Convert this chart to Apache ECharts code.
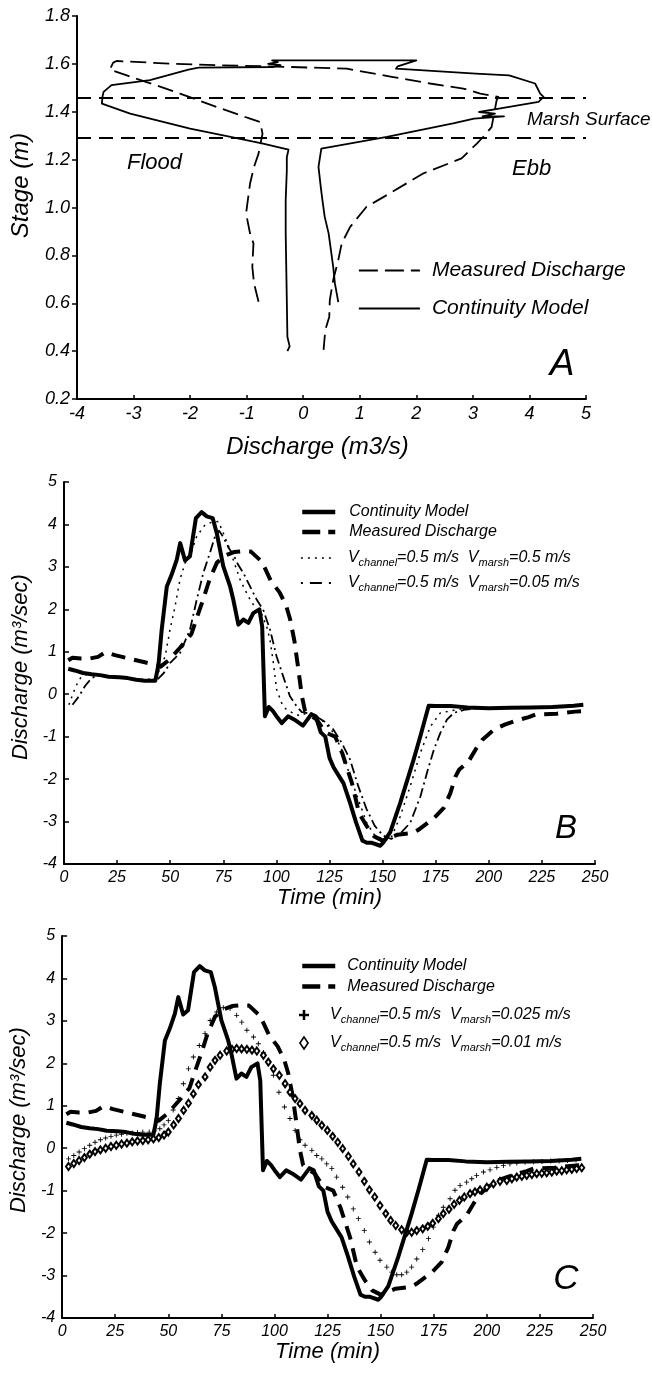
<!DOCTYPE html>
<html>
<head>
<meta charset="utf-8">
<script src="https://cdn.jsdelivr.net/npm/echarts@6/dist/echarts.min.js"></script>
<style>html,body{margin:0;padding:0;background:#fff}#c{width:652px;height:1374px}</style>
</head>
<body>
<div id="c"></div>
<script>
// ---------- Panel A : stage vs discharge ----------
const marshSurfaceStages = [1.462, 1.292];
const continuityA = [[-0.28,0.40],[-0.24,0.42],[-0.28,0.46],[-0.29,0.61],[-0.30,0.75],[-0.31,0.89],[-0.31,1.03],[-0.29,1.155],[-0.29,1.21],[-0.26,1.242],[-0.71,1.267],[-1.35,1.298],[-2.0,1.33],[-3.06,1.392],[-3.56,1.434],[-3.58,1.441],[-3.55,1.462],[-3.53,1.483],[-3.39,1.511],[-2.71,1.532],[-2.03,1.576],[-1.85,1.584],[-0.53,1.587],[-0.40,1.595],[-0.62,1.600],[-0.45,1.607],[-0.55,1.615],[2.0,1.615],[1.67,1.59],[1.64,1.58],[3.05,1.559],[3.64,1.552],[4.10,1.518],[4.19,1.476],[4.25,1.462],[4.16,1.441],[3.46,1.413],[3.11,1.399],[3.39,1.392],[3.17,1.381],[3.55,1.381],[3.02,1.371],[2.65,1.351],[1.48,1.295],[0.32,1.246],[0.31,1.239],[0.27,1.17],[0.31,1.086],[0.34,1.03],[0.38,0.961],[0.45,0.891],[0.49,0.822],[0.53,0.752],[0.56,0.683],[0.62,0.605]];
const measuredA = [[-0.79,0.606],[-0.87,0.683],[-0.90,0.752],[-0.88,0.85],[-0.94,0.891],[-1.01,0.975],[-0.98,1.03],[-0.94,1.10],[-0.87,1.17],[-0.79,1.225],[-0.72,1.308],[-0.76,1.357],[-0.94,1.371],[-1.53,1.42],[-2.18,1.476],[-2.77,1.524],[-3.12,1.552],[-3.42,1.576],[-3.36,1.605],[-3.30,1.612],[-2.36,1.601],[-1.47,1.594],[-0.65,1.59],[0.77,1.58],[1.59,1.545],[2.24,1.518],[2.83,1.497],[3.13,1.476],[3.45,1.462],[3.42,1.448],[3.33,1.336],[3.21,1.302],[3.07,1.267],[2.8,1.205],[2.12,1.142],[1.53,1.059],[1.12,1.003],[0.83,0.919],[0.68,0.85],[0.62,0.78],[0.53,0.697],[0.47,0.613],[0.46,0.543],[0.39,0.488],[0.36,0.405]];

// ---------- Panels B & C : discharge vs time ----------
const continuityModel = [[2,0.6],[5,0.56],[9,0.5],[13,0.47],[17,0.45],[21,0.41],[26,0.4],[30,0.38],[34,0.34],[38,0.32],[43,0.32],[44.5,0.7],[46,1.52],[48.4,2.54],[50.7,2.82],[53.1,3.17],[54.7,3.56],[57,3.15],[59.3,3.25],[62.1,4.15],[64.8,4.29],[67.2,4.19],[70,4.15],[71.9,3.8],[75,3.01],[78.2,2.54],[79.7,2.23],[82.1,1.64],[84.4,1.76],[86.8,1.68],[89.1,1.91],[92,2.0],[93.3,1.6],[94.6,-0.52],[96.4,-0.3],[98.4,-0.4],[100.5,-0.55],[102.5,-0.68],[105.5,-0.52],[108.5,-0.6],[112.5,-0.74],[116.5,-0.47],[118.5,-0.52],[120.9,-0.9],[123,-1.0],[125,-1.5],[126.9,-1.72],[131.6,-2.1],[134.6,-2.55],[137.5,-3.02],[140.5,-3.45],[142.6,-3.5],[145,-3.5],[148.9,-3.57],[150.2,-3.5],[153.6,-3.25],[158.3,-2.56],[164.6,-1.54],[168,-0.95],[171.7,-0.27],[175,-0.28],[181.9,-0.28],[190,-0.31],[200,-0.33],[210,-0.32],[220,-0.31],[230,-0.3],[240,-0.27],[244.5,-0.25]];
const measuredDischarge = [[2,0.8],[4,0.86],[8,0.84],[12,0.84],[16,0.88],[19.5,0.99],[24,0.92],[29,0.86],[34,0.8],[39,0.74],[43.8,0.69],[45.5,0.65],[49.5,0.81],[54.7,1.1],[60,1.42],[62.5,1.8],[65.3,2.2],[68.5,2.7],[72,3.1],[76,3.27],[80,3.35],[84,3.37],[88,3.36],[93.2,3.12],[97.5,2.66],[101.5,2.4],[104.5,2.1],[106.5,1.76],[108.5,1.25],[110.3,0.6],[112,-0.05],[113.5,-0.4],[116,-0.5],[119,-0.6],[123,-0.9],[127.7,-1.0],[131,-1.39],[135.6,-2.1],[138.9,-2.8],[142.7,-3.12],[146,-3.35],[150,-3.45],[153,-3.39],[157,-3.31],[164,-3.27],[167,-3.19],[174.2,-2.92],[178.8,-2.68],[181.9,-2.33],[184.3,-1.94],[186,-1.78],[190.5,-1.58],[193.8,-1.3],[197,-1.07],[202.5,-0.83],[207.8,-0.71],[213,-0.62],[218.8,-0.54],[222,-0.48],[232,-0.46],[240.8,-0.41],[244.5,-0.4]];
const marsh05 = [[2.3,-0.25],[4.5,0.05],[6.3,0.26],[8,0.4],[10,0.46],[15,0.45],[20,0.42],[25,0.4],[30,0.37],[35,0.35],[40,0.35],[43.6,0.42],[47.6,0.89],[49.9,1.52],[52.3,2.07],[54.6,2.7],[57,3.09],[59.3,3.25],[62.5,3.72],[66.4,3.99],[69.5,4.05],[72.7,4.07],[75,3.8],[78.2,3.4],[79.7,3.17],[82.9,2.7],[85.2,2.46],[87.6,2.23],[90.7,1.99],[93,1.9],[95.4,1.6],[97,1.28],[98.6,0.73],[100.1,0.11],[102.5,-0.21],[104.5,-0.35],[107.2,-0.43],[111.1,-0.51],[115,-0.43],[118.9,-0.51],[122.8,-0.67],[126.8,-0.9],[130.7,-1.3],[134.6,-1.92],[138.5,-2.47],[142.4,-3.02],[146.3,-3.33],[150.2,-3.41],[153.6,-3.43],[158.3,-2.88],[163,-2.17],[167.8,-1.38],[172.5,-0.76],[177.2,-0.44],[183.5,-0.38],[190,-0.32],[200,-0.32],[210,-0.31],[220,-0.3],[230,-0.29],[240,-0.27],[244,-0.26]];
const marsh005 = [[4,-0.25],[7,-0.05],[10,0.2],[13,0.38],[16,0.44],[20,0.42],[25,0.4],[30,0.37],[35,0.34],[40,0.33],[44,0.35],[47,0.5],[49.9,0.73],[54.6,0.97],[59.3,1.52],[62.5,2.23],[65.6,2.86],[68.7,3.33],[71.1,3.72],[73,3.85],[75,3.7],[77.5,3.45],[79.7,3.29],[82,3.05],[84.4,2.86],[87.6,2.54],[90.7,2.23],[93.8,1.99],[97,1.52],[100.1,0.89],[103.2,0.42],[106.4,-0.05],[109.6,-0.29],[112,-0.42],[115,-0.45],[118,-0.5],[122.8,-0.65],[126.8,-0.83],[130.7,-1.14],[134.6,-1.53],[138.5,-2.16],[142.4,-2.7],[146.3,-3.1],[150.2,-3.33],[154.1,-3.41],[158,-3.3],[163,-3.03],[167.8,-2.41],[170.9,-1.85],[174.1,-1.31],[177.2,-0.91],[180.3,-0.6],[183.5,-0.44],[188.2,-0.37],[195,-0.33],[205,-0.32],[215,-0.31],[225,-0.3],[235,-0.28],[244,-0.26]];
const marsh0025 = [[3,-0.25],[5.5,-0.17],[8,-0.09],[10.5,-0.01],[13,0.07],[15.5,0.14],[18,0.2],[20.5,0.24],[23,0.28],[25.5,0.31],[28,0.33],[30.5,0.35],[33,0.36],[35.5,0.37],[38,0.38],[41,0.38],[43.5,0.41],[46,0.46],[48,0.55],[50,0.65],[52.3,0.9],[54.7,1.17],[57.1,1.52],[59.5,1.87],[61.8,2.15],[64.6,2.42],[67.3,2.7],[69.7,3.01],[72.8,3.21],[75.9,3.31],[79.1,3.29],[82.2,3.13],[84.6,2.97],[87,2.78],[90.1,2.62],[92.4,2.46],[94.8,2.25],[97.1,2.03],[99.5,1.72],[102.1,1.32],[104.7,0.97],[107.3,0.7],[109.7,0.42],[112,0.2],[114.4,0.07],[117.6,-0.05],[119.9,-0.17],[122.3,-0.25],[124.6,-0.37],[127,-0.48],[129.3,-0.68],[132.1,-0.92],[134.5,-1.15],[137.1,-1.43],[139.5,-1.66],[142.3,-1.94],[144.7,-2.21],[147.4,-2.45],[149.7,-2.64],[152.9,-2.8],[155.2,-2.92],[157.6,-2.98],[159.9,-2.98],[162.3,-2.92],[164.6,-2.8],[167,-2.61],[169.8,-2.39],[172.5,-2.13],[174.8,-1.86],[177.2,-1.58],[179.5,-1.39],[182.7,-1.19],[185,-0.99],[187.4,-0.88],[190.5,-0.8],[192.9,-0.72],[195.2,-0.64],[198.4,-0.56],[201.5,-0.51],[204.7,-0.45],[207.8,-0.41],[210.9,-0.37],[214.1,-0.35],[218,-0.33],[222,-0.32],[226,-0.31],[230,-0.3],[234,-0.3],[238,-0.29],[242,-0.28]];
const marsh001 = [[3,-0.43],[5.5,-0.36],[8,-0.29],[10.5,-0.22],[13,-0.14],[15.5,-0.08],[18,-0.04],[20.5,0],[23,0.04],[25.5,0.07],[28,0.1],[30.5,0.12],[33,0.15],[35.5,0.17],[38,0.18],[40.5,0.2],[43,0.22],[45.5,0.25],[48,0.31],[50,0.38],[52.5,0.55],[54.8,0.7],[57.2,0.89],[59.5,1.06],[61.8,1.28],[64.2,1.5],[67.3,1.68],[69.7,1.91],[72,2.07],[74.4,2.19],[77.5,2.29],[80,2.33],[82.2,2.35],[84.5,2.34],[87,2.33],[89.4,2.31],[91.7,2.29],[94.8,2.19],[97.1,2.03],[99.5,1.87],[102.3,1.72],[105,1.52],[107.3,1.32],[109.7,1.17],[112,1.05],[114.4,0.89],[117.6,0.77],[119.9,0.66],[122.3,0.54],[124.9,0.42],[127.4,0.28],[129.8,0.14],[132.1,-0.01],[134.8,-0.19],[137.1,-0.37],[139.8,-0.56],[142.3,-0.78],[144.7,-0.98],[147.2,-1.15],[149.7,-1.35],[152.4,-1.54],[154.7,-1.7],[157.1,-1.82],[159.9,-1.92],[162.3,-1.98],[164.6,-1.98],[167,-1.94],[169.8,-1.9],[172.2,-1.84],[174.5,-1.77],[177.2,-1.66],[179.5,-1.54],[182.2,-1.44],[184.6,-1.32],[187.1,-1.23],[189.4,-1.15],[192.1,-1.07],[194.4,-1.03],[196.8,-0.98],[200,-0.92],[203.1,-0.84],[206.2,-0.78],[209.4,-0.76],[211.8,-0.72],[214.1,-0.68],[216.5,-0.66],[218.8,-0.64],[221.2,-0.62],[223.5,-0.6],[225.9,-0.59],[228.2,-0.58],[230.6,-0.56],[232.9,-0.54],[235.3,-0.53],[237.6,-0.51],[240,-0.5],[242.3,-0.48],[244.7,-0.46]];

const legendLabels = {
  'A-meas': '{v|Measured Discharge}',
  'A-cont': '{v|Continuity Model}',
  'B-cont': '{v|Continuity Model}',
  'B-meas': '{v|Measured Discharge}',
  'B-v05': '{v|V}{s|channel}{v|=0.5 m/s  V}{s|marsh}{v|=0.5 m/s}',
  'B-v005': '{v|V}{s|channel}{v|=0.5 m/s  V}{s|marsh}{v|=0.05 m/s}',
  'C-cont': '{v|Continuity Model}',
  'C-meas': '{v|Measured Discharge}',
  'C-v0025': '{v|V}{s|channel}{v|=0.5 m/s  V}{s|marsh}{v|=0.025 m/s}',
  'C-v001': '{v|V}{s|channel}{v|=0.5 m/s  V}{s|marsh}{v|=0.01 m/s}'
};

const FONT = '"Liberation Sans", Arial, sans-serif';
const PLUS = 'path://M-1,-4L1,-4L1,-1L4,-1L4,1L1,1L1,4L-1,4L-1,1L-4,1L-4,-1L-1,-1Z';
const SMALLPLUS = 'path://M-0.7,-4L0.7,-4L0.7,-0.7L4,-0.7L4,0.7L0.7,0.7L0.7,4L-0.7,4L-0.7,0.7L-4,0.7L-4,-0.7L-0.7,-0.7Z';
const DIAM = 'path://M0,-5L3.4,0L0,5L-3.4,0Z';

function richFor(size, sub) {
  return {
    v: {fontSize: size, fontStyle: 'italic', fontFamily: FONT, color: '#000', lineHeight: 20},
    s: {fontSize: sub, fontStyle: 'italic', fontFamily: FONT, color: '#000', lineHeight: sub, verticalAlign: 'bottom'}
  };
}

function xAx(grid, min, max, interval, name, gap, nameSize, labelSize, pad) {
  return {
    gridIndex: grid, type: 'value', min: min, max: max, interval: interval,
    name: name, nameLocation: 'middle', nameGap: gap,
    nameTextStyle: {fontSize: nameSize, fontStyle: 'italic', fontFamily: FONT, color: '#000', padding: pad || 0},
    axisLine: {onZero: false, lineStyle: {color: '#000', width: 2}},
    axisTick: {inside: true, length: 4, lineStyle: {color: '#000', width: 1.5}},
    axisLabel: {fontSize: labelSize, fontStyle: 'italic', fontFamily: FONT, color: '#000', margin: 6},
    splitLine: {show: false}
  };
}
function yAx(grid, min, max, interval, name, gap, nameSize, labelSize, inside, fmt, pad) {
  return {
    gridIndex: grid, type: 'value', min: min, max: max, interval: interval,
    name: name, nameLocation: 'middle', nameGap: gap,
    nameTextStyle: {fontSize: nameSize, fontStyle: 'italic', fontFamily: FONT, color: '#000', padding: pad || 0},
    axisLine: {onZero: false, lineStyle: {color: '#000', width: 2}},
    axisTick: {inside: inside, length: 5, lineStyle: {color: '#000', width: 1.5}},
    axisLabel: {fontSize: labelSize, fontStyle: 'italic', fontFamily: FONT, color: '#000', margin: 7, formatter: fmt},
    splitLine: {show: false}
  };
}
function lineS(name, xi, data, width, type, z) {
  return {
    name: name, type: 'line', xAxisIndex: xi, yAxisIndex: xi, data: data,
    symbol: 'none', showSymbol: false, smooth: false, silent: true, z: z || 2,
    lineStyle: {color: '#000', width: width, type: type, cap: 'butt', join: 'round'},
    itemStyle: {color: '#000'}
  };
}
function legendBox(left, top, itemWidth, itemHeight, gap, textPad, size, sub, data, hideSymbol) {
  const l = {
    left: left, top: top, orient: 'vertical', padding: 0, itemWidth: itemWidth, itemHeight: itemHeight,
    itemGap: gap, selectedMode: false, formatter: n => legendLabels[n],
    textStyle: {padding: [0, 0, 0, textPad], rich: richFor(size, sub)}, data: data
  };
  if (hideSymbol) l.itemStyle = {opacity: 0};
  return l;
}

const chart = echarts.init(document.getElementById('c'), null, {renderer: 'canvas'});
const option = {
  animation: false,
  backgroundColor: '#fff',
  textStyle: {fontFamily: FONT, color: '#000'},
  grid: [
    {left: 77, top: 16, width: 509, height: 383},
    {left: 64, top: 482, width: 531, height: 382},
    {left: 62, top: 936, width: 531, height: 382}
  ],
  xAxis: [
    xAx(0, -4, 5, 1, 'Discharge (m3/s)', 36, 24, 18, [0, 28, 0, 0]),
    xAx(1, 0, 250, 25, 'Time (min)', 22, 22, 16),
    xAx(2, 0, 250, 25, 'Time (min)', 22, 22, 16)
  ],
  yAxis: [
    yAx(0, 0.2, 1.8, 0.2, 'Stage (m)', 44, 24, 18, false, v => v.toFixed(1), [0, 0, 0, 44]),
    yAx(1, -4, 5, 1, 'Discharge (m³/sec)', 26, 22, 16, true, null, [0, 0, 0, 12]),
    yAx(2, -4, 5, 1, 'Discharge (m³/sec)', 28, 22, 16, true, null, [0, 0, 0, 14])
  ],
  legend: [
    legendBox(358, 260, 61, 20, 17, 7, 21, 14,
      [{name: 'A-meas', lineStyle: {width: 1.8, type: [19, 7]}}, {name: 'A-cont', lineStyle: {width: 1.8}}], true),
    legendBox(300, 504, 33, 20, 4, 9, 16, 11,
      [{name: 'B-cont', lineStyle: {width: 4.5}}, {name: 'B-meas', lineStyle: {width: 4.5, type: [18, 8]}}], true),
    legendBox(300, 550, 33, 20, 7, 9, 16, 11,
      [{name: 'B-v05', lineStyle: {width: 1.5, type: [2, 5]}}, {name: 'B-v005', lineStyle: {width: 1.8, type: [2, 7, 12, 7]}}], true),
    legendBox(300, 958, 33, 20, 4.5, 7, 16, 11,
      [{name: 'C-cont', lineStyle: {width: 4.5}}, {name: 'C-meas', lineStyle: {width: 4.5, type: [18, 8]}}], true),
    legendBox(299, 1007, 10, 12, 10, 16, 16, 11,
      [{name: 'C-v0025', icon: PLUS, itemStyle: {color: '#000', borderWidth: 0}},
       {name: 'C-v001', icon: DIAM, itemStyle: {color: '#fff', borderColor: '#000', borderWidth: 1.6}}], false)
  ],
  series: [
    Object.assign(lineS('A-meas', 0, measuredA, 1.8, [16, 7]), {
      markLine: {silent: true, symbol: 'none', label: {show: false},
        lineStyle: {color: '#000', width: 2.2, type: [14, 8]},
        data: marshSurfaceStages.map(v => ({yAxis: v}))}
    }),
    lineS('A-cont', 0, continuityA, 1.8, 'solid'),

    lineS('B-meas', 1, measuredDischarge, 4, [14, 9]),
    lineS('B-v05', 1, marsh05, 1.5, [2, 5]),
    lineS('B-v005', 1, marsh005, 1.8, [10, 4, 2, 4]),
    lineS('B-cont', 1, continuityModel, 4, 'solid', 3),

    lineS('C-meas', 2, measuredDischarge, 4, [14, 9]),
    {name: 'C-v0025', type: 'scatter', xAxisIndex: 2, yAxisIndex: 2, data: marsh0025, symbol: SMALLPLUS, symbolSize: 5,
     silent: true, itemStyle: {color: '#000', opacity: 1}},
    {name: 'C-v001', type: 'scatter', xAxisIndex: 2, yAxisIndex: 2, data: marsh001, symbol: 'emptyDiamond', symbolSize: [5, 7],
     silent: true, itemStyle: {color: '#000', borderColor: '#000', borderWidth: 1, opacity: 1}},
    lineS('C-cont', 2, continuityModel, 4, 'solid', 3)
  ],
  graphic: [
    {type: 'text', left: 127, top: 152, silent: true, style: {text: 'Flood', font: 'italic 22px ' + FONT, fill: '#000'}},
    {type: 'text', left: 512, top: 158, silent: true, style: {text: 'Ebb', font: 'italic 22px ' + FONT, fill: '#000'}},
    {type: 'text', left: 527, top: 110, silent: true, style: {text: 'Marsh Surface', font: 'italic 19px ' + FONT, fill: '#000'}},
    {type: 'text', x: 562, y: 365, silent: true, style: {text: 'A', font: 'italic 37px ' + FONT, fill: '#000', align: 'center', verticalAlign: 'middle'}},
    {type: 'text', x: 566, y: 829, silent: true, style: {text: 'B', font: 'italic 33px ' + FONT, fill: '#000', align: 'center', verticalAlign: 'middle'}},
    {type: 'text', x: 566, y: 1279, silent: true, style: {text: 'C', font: 'italic 35px ' + FONT, fill: '#000', align: 'center', verticalAlign: 'middle'}}
  ]
};
chart.setOption(option);
</script>
</body>
</html>
